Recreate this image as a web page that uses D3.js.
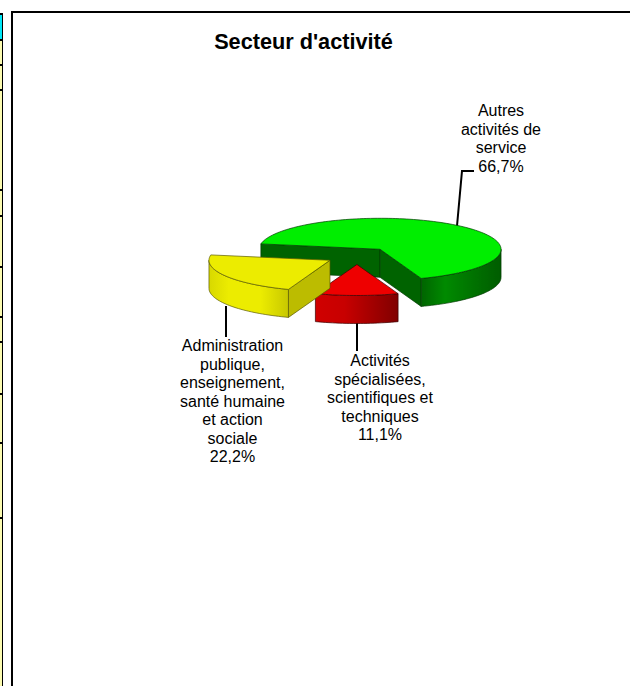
<!DOCTYPE html>
<html><head><meta charset="utf-8">
<script src="https://cdn.jsdelivr.net/npm/d3@7"></script>
<style>html,body{margin:0;padding:0;background:#fff}svg{display:block}text{font-family:"Liberation Sans",Arial,sans-serif;fill:#000}</style>
</head><body><div id="c"></div>
<script>
const title = "Secteur d'activité";
const categories = ["Autres activités de service","Activités spécialisées, scientifiques et techniques","Administration publique, enseignement, santé humaine et action sociale"];
const values = [66.7, 11.1, 22.2];
const labelLines = [["Autres","activités de","service","66,7%"],["Activités","spécialisées,","scientifiques et","techniques","11,1%"],["Administration","publique,","enseignement,","santé humaine","et action","sociale","22,2%"]];
const gridRows = [14,40,65,90,190,216,267,317,342,394,443,518];

const W=630,H=686,cx=357,cy=256.3,rx=121,ry=31,depth=28;
const explode=[35.8,32,31.2];
const tau=Math.PI*2;
const svg=d3.select("#c").append("svg").attr("width",W).attr("height",H);
const defs=svg.append("defs");
function grad(id,stops){const g=defs.append("linearGradient").attr("id",id);stops.forEach(s=>g.append("stop").attr("offset",s[0]).attr("stop-color",s[1]));}
grad("gGreen",[[0,"#006400"],[0.3,"#008a00"],[0.5,"#007c00"],[1,"#005c00"]]);
grad("gRed",[[0,"#d00000"],[0.35,"#c80000"],[1,"#800000"]]);
grad("gYellow",[[0,"#d8d800"],[0.25,"#ecec00"],[0.65,"#ecec00"],[1,"#c8c800"]]);
defs.append("filter").attr("id","soft").append("feGaussianBlur").attr("stdDeviation",0.35);
const styles=[
 {top:"#00ee00",wall:"url(#gGreen)",face:"#006400",stroke:"#063a06"},
 {top:"#ee0000",wall:"url(#gRed)",face:"#b00000",stroke:"#3a0000"},
 {top:"#ecec00",wall:"url(#gYellow)",face:"#bcbc00",stroke:"#5a5a00"}];

// left strip of the spreadsheet behind the chart
const strip=svg.append("g");
strip.append("rect").attr("x",0).attr("y",14).attr("width",2).attr("height",26).attr("fill","#00e8f8");
strip.append("rect").attr("x",0).attr("y",40).attr("width",2).attr("height",H-40).attr("fill","#fbfbb0");
strip.append("rect").attr("x",2).attr("y",13).attr("width",1).attr("height",H-13).attr("fill","#000");
strip.selectAll("rect.r").data(gridRows).join("rect").attr("class","r").attr("x",0).attr("y",d=>d-1).attr("width",3).attr("height",2).attr("fill","#000");
// frame
svg.append("path").attr("d",`M12 ${H}V12H${W}`).attr("fill","none").attr("stroke","#000").attr("stroke-width",2);

svg.append("text").attr("x",303.5).attr("y",49).attr("text-anchor","middle").attr("font-weight","bold").attr("font-size",21.7).text(title);

const line=d3.line();
// leader lines sit under the slices
const leaders=[[[457,226],[462,171],[474,171]],[[357,322],[357,351]],[[226,306],[226,337]]];
leaders.forEach(l=>svg.append("path").attr("d",line(l)).attr("fill","none").attr("stroke","#000").attr("stroke-width",2));

const pie=d3.pie().sort(null).startAngle(280*Math.PI/180).endAngle(280*Math.PI/180+tau);
const arcs=pie(values);
const px=(c,a)=>[c[0]+rx*Math.sin(a),c[1]-ry*Math.cos(a)];
function arcPts(c,a0,a1,dy){const n=Math.max(2,Math.ceil(Math.abs(a1-a0)/0.03));return d3.range(n+1).map(i=>{const p=px(c,a0+(a1-a0)*i/n);return [p[0],p[1]+dy];});}
const mark=svg.append("g").attr("filter","url(#soft)");
arcs.forEach((d,i)=>{
  const mid=(d.startAngle+d.endAngle)/2;
  const c=[cx+explode[i]*Math.sin(mid),cy-explode[i]*Math.cos(mid)*ry/rx];
  const s=styles[i], g=mark.append("g");
  const add=()=>g.append("path").attr("stroke",s.stroke).attr("stroke-width",0.7).attr("stroke-linejoin","round");
  // cut faces that look towards the viewer
  const faces=[];
  if(Math.sin(d.startAngle)<0) faces.push(d.startAngle);
  if(Math.sin(d.endAngle)>0) faces.push(d.endAngle);
  faces.forEach(a=>{
    const p=px(c,a);
    add().attr("d",line([c,p,[p[0],p[1]+depth],[c[0],c[1]+depth]])+"Z").attr("fill",s.face);
  });
  // outer wall: the front half of the rim only
  for(let k=0;k<2;k++){
    const a0=Math.max(d.startAngle,Math.PI/2+k*tau),a1=Math.min(d.endAngle,Math.PI*1.5+k*tau);
    if(a1>a0) add().attr("d",line(arcPts(c,a0,a1,0).concat(arcPts(c,a1,a0,depth)))+"Z").attr("fill",s.wall);
  }
  // top
  add().attr("d",line([c].concat(arcPts(c,d.startAngle,d.endAngle,0)))+"Z").attr("fill",s.top);
});

const labelX=[501,380,232.5], labelY=[116,366,351], lh=18.5;
labelLines.forEach((lines,i)=>{
  const t=svg.append("text").attr("text-anchor","middle").attr("font-size",16);
  lines.forEach((s,j)=>t.append("tspan").attr("x",labelX[i]).attr("y",labelY[i]+j*lh).text(s));
});
</script></body></html>
